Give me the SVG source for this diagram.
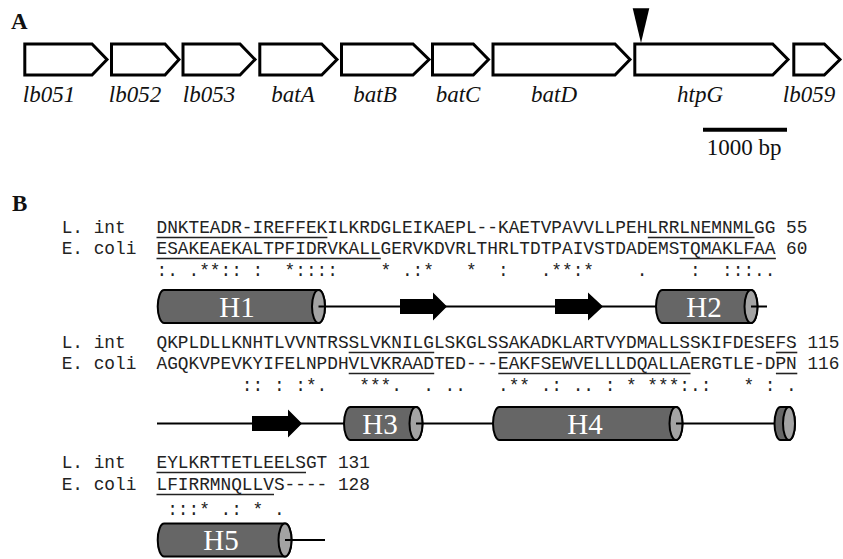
<svg xmlns="http://www.w3.org/2000/svg" width="843" height="559" viewBox="0 0 843 559">
<style>
.gene polygon{fill:#fff;stroke:#000;stroke-width:3;stroke-linejoin:miter}
.glabel{font-family:"Liberation Serif","Times New Roman",serif;font-style:italic;font-size:23px;text-anchor:middle;fill:#111}
.panel{font-family:"Liberation Serif","Times New Roman",serif;font-weight:bold;font-size:23px;fill:#111}
.scale{font-family:"Liberation Serif","Times New Roman",serif;font-size:23px;text-anchor:middle;fill:#111}
.seq{font-family:"Liberation Mono","Courier New",monospace;font-size:17.8px;fill:#222}
.ul{stroke:#222;stroke-width:1.6}
.cyl{fill:#666;stroke:#000;stroke-width:2}
.cap{fill:#a3a3a3;stroke:#000;stroke-width:2}
.hl{font-family:"Liberation Serif","Times New Roman",serif;font-size:29px;fill:#fff;text-anchor:middle}
.bb{stroke:#000;stroke-width:2;fill:none}
.strand{fill:#000}
</style>

<!-- Panel A -->
<text class="panel" x="11" y="29">A</text>
<polygon id="insertion-marker" points="632.7,8.3 649.3,8.3 641,43" fill="#000"/>

<g id="gene-lb051" class="gene"><polygon points="24.8,44 92,44 107,59.5 92,75 24.8,75"/><text class="glabel" x="49" y="102">lb051</text></g>
<g id="gene-lb052" class="gene"><polygon points="111.5,44 165,44 179,59.5 165,75 111.5,75"/><text class="glabel" x="135" y="102">lb052</text></g>
<g id="gene-lb053" class="gene"><polygon points="183,44 240,44 255,59.5 240,75 183,75"/><text class="glabel" x="209" y="102">lb053</text></g>
<g id="gene-batA" class="gene"><polygon points="259.8,44 321.7,44 337,59.5 321.7,75 259.8,75"/><text class="glabel" x="293" y="102">batA</text></g>
<g id="gene-batB" class="gene"><polygon points="341.5,44 413,44 429,59.5 413,75 341.5,75"/><text class="glabel" x="375" y="102">batB</text></g>
<g id="gene-batC" class="gene"><polygon points="432.5,44 473.3,44 488.5,59.5 473.3,75 432.5,75"/><text class="glabel" x="458" y="102">batC</text></g>
<g id="gene-batD" class="gene"><polygon points="493,44 615,44 630,59.5 615,75 493,75"/><text class="glabel" x="554" y="102">batD</text></g>
<g id="gene-htpG" class="gene"><polygon points="634.8,44 772.7,44 788,59.5 772.7,75 634.8,75"/><text class="glabel" x="700" y="102">htpG</text></g>
<g id="gene-lb059" class="gene"><polygon points="793.8,44 824.3,44 840,59.5 824.3,75 793.8,75"/><text class="glabel" x="809" y="102">lb059</text></g>

<g id="scale-bar">
<line x1="703" y1="129.7" x2="787" y2="129.7" stroke="#000" stroke-width="4"/>
<text class="scale" x="744" y="155">1000 bp</text>
</g>

<!-- Panel B -->
<text class="panel" x="12" y="211">B</text>

<g id="alignment-block-1">
<text class="seq" x="61.7" y="233">L. int</text>
<text class="seq" x="61.7" y="254">E. coli</text>
<text class="seq" x="156.5" y="233">DNKTEADR-IREFFEKILKRDGLEIKAEPL--KAETVPAVVLLPEHLRRLNEMNMLGG 55</text>
<text class="seq" x="156.5" y="254">ESAKEAEKALTPFIDRVKALLGERVKDVRLTHRLTDTPAIVSTDADEMSTQMAKLFAA 60</text>
<text class="seq" x="156.5" y="275.5" xml:space="preserve">:. .**:: :  *::::    * .:*   *  :   .**:*    .    :  :::..</text>
<line class="ul" x1="156.5" y1="237.5" x2="327.4" y2="237.5"/>
<line class="ul" x1="647.8" y1="237.5" x2="754.6" y2="237.5"/>
<line class="ul" x1="156.5" y1="258.5" x2="380.8" y2="258.5"/>
<line class="ul" x1="679.8" y1="258.5" x2="775.9" y2="258.5"/>
</g>

<g id="alignment-block-2">
<text class="seq" x="61.7" y="348">L. int</text>
<text class="seq" x="61.7" y="369">E. coli</text>
<text class="seq" x="156.5" y="348">QKPLDLLKNHTLVVNTRSSLVKNILGLSKGLSSAKADKLARTVYDMALLSSKIFDESEFS 115</text>
<text class="seq" x="156.5" y="369">AGQKVPEVKYIFELNPDHVLVKRAADTED---EAKFSEWVELLLDQALLAERGTLE-DPN 116</text>
<text class="seq" x="156.5" y="390.5" xml:space="preserve">        :: : :*.   ***.  . ..   .** .: .. : * ***:.:   * : .</text>
<line class="ul" x1="348.7" y1="352.5" x2="434.2" y2="352.5"/>
<line class="ul" x1="498.3" y1="352.5" x2="690.5" y2="352.5"/>
<line class="ul" x1="775.9" y1="352.5" x2="797.3" y2="352.5"/>
<line class="ul" x1="348.7" y1="373.5" x2="434.2" y2="373.5"/>
<line class="ul" x1="498.3" y1="373.5" x2="690.5" y2="373.5"/>
<line class="ul" x1="775.9" y1="373.5" x2="797.3" y2="373.5"/>
</g>

<g id="alignment-block-3">
<text class="seq" x="61.7" y="468">L. int</text>
<text class="seq" x="61.7" y="490">E. coli</text>
<text class="seq" x="156.5" y="468">EYLKRTTETLEELSGT 131</text>
<text class="seq" x="156.5" y="490">LFIRRMNQLLVS---- 128</text>
<text class="seq" x="156.5" y="515" xml:space="preserve"> :::* .: * .</text>
<line class="ul" x1="156.5" y1="472.5" x2="306" y2="472.5"/>
<line class="ul" x1="156.5" y1="494.5" x2="274" y2="494.5"/>
</g>

<!-- Secondary structure: helices -->
<g id="helix-H1"><path class="cyl" d="M164.2,290 L318.5,290 A6.5,16.5 0 0 1 318.5,323 L164.2,323 A6.5,16.5 0 0 1 164.2,290 Z"/><ellipse class="cap" cx="318.5" cy="306.5" rx="6.5" ry="16.5"/><text class="hl" x="237" y="316.5">H1</text></g>
<g id="helix-H2"><path class="cyl" d="M662.5,290 L751,290 A6.5,16.5 0 0 1 751,323 L662.5,323 A6.5,16.5 0 0 1 662.5,290 Z"/><ellipse class="cap" cx="751" cy="306.5" rx="6.5" ry="16.5"/><text class="hl" x="704" y="316.5">H2</text></g>
<g id="helix-H3"><path class="cyl" d="M350.5,407 L416,407 A6.5,16.5 0 0 1 416,440 L350.5,440 A6.5,16.5 0 0 1 350.5,407 Z"/><ellipse class="cap" cx="416" cy="423.5" rx="6.5" ry="16.5"/><text class="hl" x="380" y="433.5">H3</text></g>
<g id="helix-H4"><path class="cyl" d="M499.5,407 L676,407 A6.5,16.5 0 0 1 676,440 L499.5,440 A6.5,16.5 0 0 1 499.5,407 Z"/><ellipse class="cap" cx="676" cy="423.5" rx="6.5" ry="16.5"/><text class="hl" x="585" y="433.5">H4</text></g>
<g id="helix-small"><path class="cyl" d="M780.5,407 L789,407 A6,16.5 0 0 1 789,440 L780.5,440 A6,16.5 0 0 1 780.5,407 Z"/><ellipse class="cap" cx="789" cy="423.5" rx="6" ry="16.5"/></g>
<g id="helix-H5"><path class="cyl" d="M164.2,523.5 L285,523.5 A6.5,16.5 0 0 1 285,556.5 L164.2,556.5 A6.5,16.5 0 0 1 164.2,523.5 Z"/><ellipse class="cap" cx="285" cy="540" rx="6.5" ry="16.5"/><text class="hl" x="221" y="550">H5</text></g>

<!-- Connectors: backbone coil lines -->
<g id="connectors" class="bb">
<path d="M318.5,306.5 H656"/>
<path d="M751,306.5 H767"/>
<path d="M157,423.5 H344"/>
<path d="M416,423.5 H493"/>
<path d="M676,423.5 H774"/>
<path d="M285,540 H325"/>
</g>

<!-- Beta strands -->
<g id="strand-1" class="strand"><polygon points="400,299 433,299 433,292.5 447,306.5 433,320.5 433,314 400,314"/></g>
<g id="strand-2" class="strand"><polygon points="555,299 588,299 588,292.5 603,306.5 588,320.5 588,314 555,314"/></g>
<g id="strand-3" class="strand"><polygon points="252,416 288,416 288,409.5 302,423.5 288,437.5 288,431 252,431"/></g>
</svg>
